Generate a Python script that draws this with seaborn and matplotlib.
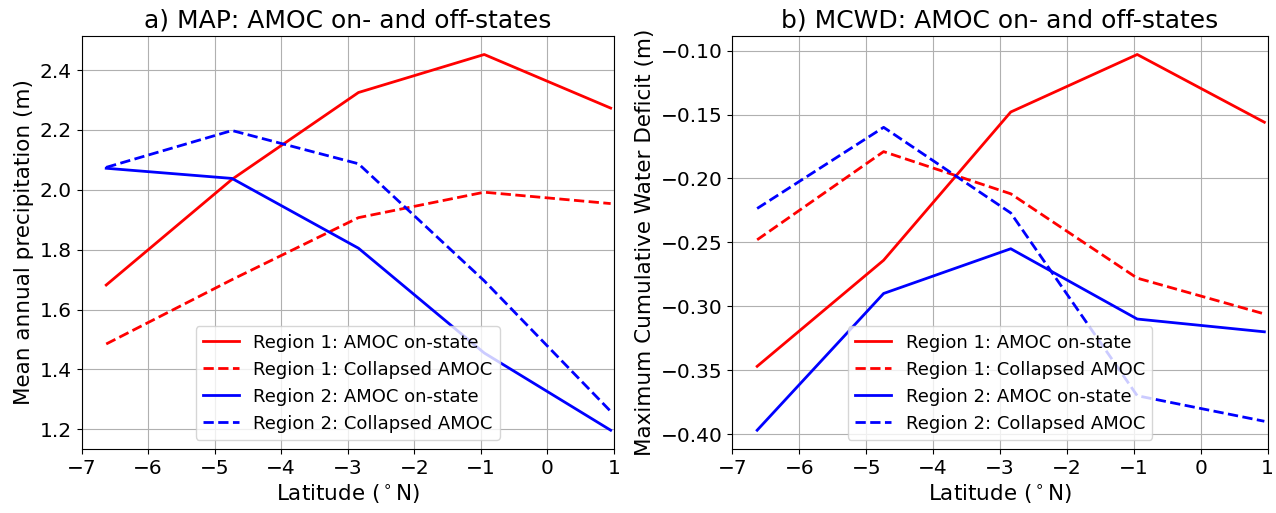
import matplotlib
matplotlib.use("Agg")
import matplotlib.pyplot as plt
import seaborn as sns
import numpy as np

plt.style.use("default")
plt.rcParams['font.family'] = ['DejaVu Sans']

# Latitude (deg N)
lat = [-6.63, -4.74, -2.84, -0.95, 0.95]

# a) Mean annual precipitation (m)
map_r1_on = [1.682, 2.035, 2.325, 2.452, 2.273]
map_r1_off = [1.485, 1.700, 1.907, 1.992, 1.954]
map_r2_on = [2.072, 2.038, 1.805, 1.455, 1.197]
map_r2_off = [2.075, 2.198, 2.087, 1.696, 1.260]

# b) Maximum cumulative water deficit (m)
mcwd_r1_on = [-0.347, -0.264, -0.148, -0.103, -0.156]
mcwd_r1_off = [-0.248, -0.179, -0.212, -0.278, -0.306]
mcwd_r2_on = [-0.397, -0.290, -0.255, -0.310, -0.320]
mcwd_r2_off = [-0.2235, -0.160, -0.227, -0.370, -0.390]

labels = ["Region 1: AMOC on-state", "Region 1: Collapsed AMOC",
          "Region 2: AMOC on-state", "Region 2: Collapsed AMOC"]
colors = ["red", "red", "blue", "blue"]
styles = ["-", "--", "-", "--"]

titles = ["a) MAP: AMOC on- and off-states", "b) MCWD: AMOC on- and off-states"]
ylabels = ["Mean annual precipitation (m)", "Maximum Cumulative Water Deficit (m)"]
panels = [[map_r1_on, map_r1_off, map_r2_on, map_r2_off],
          [mcwd_r1_on, mcwd_r1_off, mcwd_r2_on, mcwd_r2_off]]

fig = plt.figure(figsize=(12.76, 5.13), dpi=100)
positions = [[81.6 / 1276, 1 - 449 / 513, (614 - 81.6) / 1276, (449 - 35.7) / 513],
             [732.4 / 1276, 1 - 449 / 513, (1267.7 - 732.4) / 1276, (449 - 35.7) / 513]]

for i in range(2):
    ax = fig.add_axes(positions[i])
    for series, c, ls, lab in zip(panels[i], colors, styles, labels):
        sns.lineplot(x=lat, y=series, color=c, linestyle=ls, linewidth=2,
                     label=lab, ax=ax)
    ax.set_xlim(-7, 1)
    ax.grid(True, color="#b0b0b0", linewidth=0.8)
    ax.set_title(titles[i], fontsize=18)
    ax.set_ylabel(ylabels[i], fontsize=15.5)
    ax.set_xlabel(r"Latitude ($^\circ$N)", fontsize=15.5)
    ax.tick_params(labelsize=14.5)
    ax.legend(loc="lower center", fontsize=13)

fig.savefig("out.png", dpi=100)
